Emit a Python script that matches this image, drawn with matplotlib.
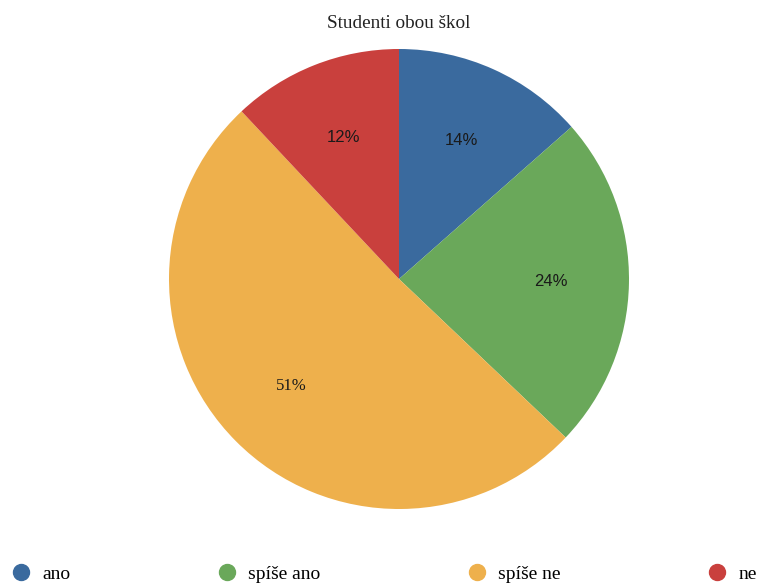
import matplotlib.pyplot as plt
from matplotlib.lines import Line2D

# data
labels = ['ano', 'spíše ano', 'spíše ne', 'ne']
values = [13.5, 23.6, 50.9, 12.0]
pct_text = ['14%', '24%', '51%', '12%']
colors = ['#3a6a9e', '#6aa85a', '#eeb04c', '#c9403d']

fig = plt.figure(figsize=(7.58, 5.85), dpi=100)
ax = fig.add_axes([169/758, 76/585, 460/758, 460/585])

wedges, texts = ax.pie(values, colors=colors, startangle=90, counterclock=False,
                       labels=pct_text, labeldistance=0.66,
                       wedgeprops=dict(linewidth=0))
for i, t in enumerate(texts):
    t.set_ha('center')
    t.set_va('center')
    t.set_fontsize(12)
    t.set_color('#1a1a1a')
    # the biggest slice uses a serif face in the original
    t.set_family('Liberation Serif' if i == 2 else 'Liberation Sans')
ax.set_xlim(-1, 1)
ax.set_ylim(-1, 1)
ax.set_aspect('equal')

fig.text(399/758, 1 - 24/585, 'Studenti obou škol', ha='center', va='center',
         fontsize=13.8, family='Liberation Serif', color='#222222')

handles = [Line2D([], [], marker='o', linestyle='', markersize=11.5,
                  markerfacecolor=c, markeredgecolor=c) for c in colors]
fig.legend(handles, labels, ncol=4, mode='expand', loc='center',
           bbox_to_anchor=(-6/758, 1 - 589/585, 780/758, 30/585),
           frameon=False, handletextpad=0.6, handlelength=1.0,
           prop=dict(family='Liberation Serif', size=14))

fig.savefig('out.png', dpi=100, facecolor='white')
